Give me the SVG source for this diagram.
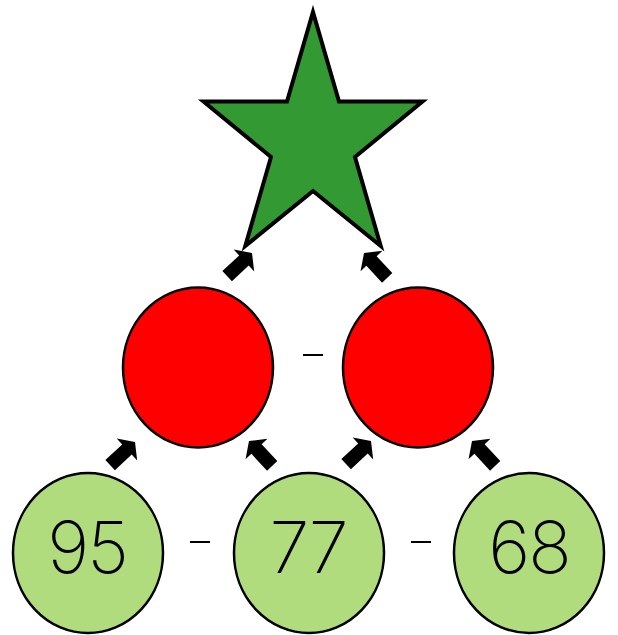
<svg xmlns="http://www.w3.org/2000/svg" width="618" height="635" viewBox="0 0 618 635">
<style>
.num{font-family:Inter,"Noto Sans","DejaVu Sans",sans-serif;font-weight:200;font-size:72px;letter-spacing:-2px;fill:#000;text-anchor:middle}
.red{fill:#ff0000;stroke:#000;stroke-width:2.5}
.grn{fill:#b0dc7e;stroke:#000;stroke-width:2.5}
.op{stroke:#000;stroke-width:2;fill:none}
.arr{fill:#000}
</style>
<defs>
<path id="arrow" d="M0,0 L-11,-15 L-11,-7 L-34,-7 L-34,7 L-11,7 L-11,15 Z"/>
</defs>
<g id="star">
<polygon points="313,12 339,101.5 422.5,101.5 355,157 380.7,246 313,191 245.3,246 271,157 203.5,101.5 287,101.5" fill="#339933" stroke="#000" stroke-width="4"/>
</g>
<g id="red-left"><ellipse class="red" cx="198" cy="367.5" rx="75" ry="80"/></g>
<g id="red-right"><ellipse class="red" cx="418" cy="367.5" rx="75" ry="80"/></g>
<g id="green-95"><ellipse class="grn" cx="88" cy="553" rx="75" ry="80"/><text class="num" x="87" y="573">95</text></g>
<g id="green-77"><ellipse class="grn" cx="309" cy="553" rx="75" ry="80"/><text class="num" x="308" y="573">77</text></g>
<g id="green-68"><ellipse class="grn" cx="529" cy="553" rx="75" ry="80"/><text class="num" x="529" y="573">68</text></g>
<g id="operators">
<line class="op" x1="303" y1="355" x2="323" y2="355"/>
<line class="op" x1="190" y1="542" x2="210" y2="542"/>
<line class="op" x1="411" y1="542" x2="431" y2="542"/>
</g>
<g id="connectors" class="arr">
<use href="#arrow" transform="translate(252,253) rotate(-43)"/>
<use href="#arrow" transform="translate(364,253) rotate(-133)"/>
<use href="#arrow" transform="translate(135,442) rotate(-43)"/>
<use href="#arrow" transform="translate(249,441) rotate(-133)"/>
<use href="#arrow" transform="translate(371,441) rotate(-43)"/>
<use href="#arrow" transform="translate(472,441) rotate(-133)"/>
</g>
</svg>
